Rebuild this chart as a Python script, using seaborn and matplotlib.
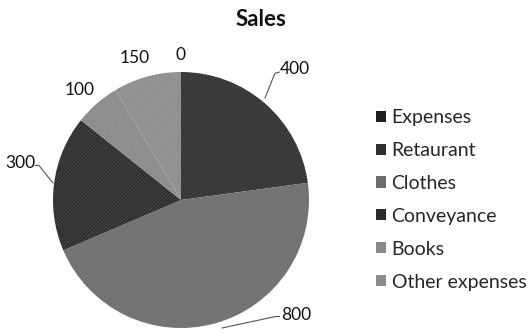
import numpy as np
import matplotlib
matplotlib.use("Agg")
import matplotlib.pyplot as plt
import seaborn as sns
from matplotlib.patches import Patch

# Sales breakdown
categories = ["Expenses", "Retaurant", "Clothes", "Conveyance", "Books", "Other expenses"]
sales = [0, 400, 800, 300, 100, 150]
value_labels = ["0", "400", "800", "300", "100", "150"]

sns.set_theme(style="white")
plt.rcParams["font.family"] = ["Lato", "DejaVu Sans"]
plt.rcParams["hatch.linewidth"] = 0.5

colors = ["#1e1e1e", "#303030", "#6c6c6c", "#2b2b2b", "#888888", "#8c8c8c"]

W, H = 531, 333
fig = plt.figure(figsize=(W / 100, H / 100), dpi=100)
R = 128
cx, cy = 181, 200
ax = fig.add_axes([(cx - R) / W, (H - cy - R) / H, 2 * R / W, 2 * R / H])

wedges, _ = ax.pie(sales, colors=colors, startangle=90, counterclock=False,
                   radius=1.0, wedgeprops=dict(linewidth=0))
for w in wedges:
    w.set_hatch("//////////")
    w.set_edgecolor((1, 1, 1, 0.18))
    w.set_linewidth(0)

ax.set_xlim(-1, 1)
ax.set_ylim(-1, 1)
ax.set_aspect("equal")
ax.axis("off")

# value labels around the pie: (text x, text y, alignment, leader path or None)
label_layout = {
    "0": (0.0, 1.135, "center", None),
    "400": (0.77, 1.02, "left", [(0.656, 0.797), (0.734, 0.99), (0.77, 1.0)]),
    "800": (0.78, -0.895, "left", [(0.32, -1.0), (0.74, -0.91), (0.77, -0.91)]),
    "300": (-1.14, 0.29, "right", [(-1.0, 0.133), (-1.11, 0.27), (-1.14, 0.27)]),
    "100": (-0.79, 0.86, "center", None),
    "150": (-0.36, 1.11, "center", None),
}
for lab in value_labels:
    tx, ty, ha, path = label_layout[lab]
    ax.text(tx, ty, lab, ha=ha, va="center", fontsize=12.5, color="#111111", clip_on=False)
    if path is not None:
        xs, ys = zip(*path)
        ax.plot(xs, ys, color="#555555", lw=0.8, clip_on=False)

fig.text(261 / W, 1 - 19 / H, "Sales", ha="center", va="center",
         fontsize=16, fontweight="bold", color="#111111")

handles = [Patch(facecolor=c, edgecolor="none") for c in colors]
fig.legend(handles, categories, loc="upper left", bbox_to_anchor=(376 / W, 1 - 109 / H),
           frameon=False, fontsize=14, handlelength=0.5, handleheight=0.5,
           handletextpad=0.3, labelspacing=0.82, borderpad=0, borderaxespad=0)

fig.savefig("out.png", dpi=100, facecolor="white")
